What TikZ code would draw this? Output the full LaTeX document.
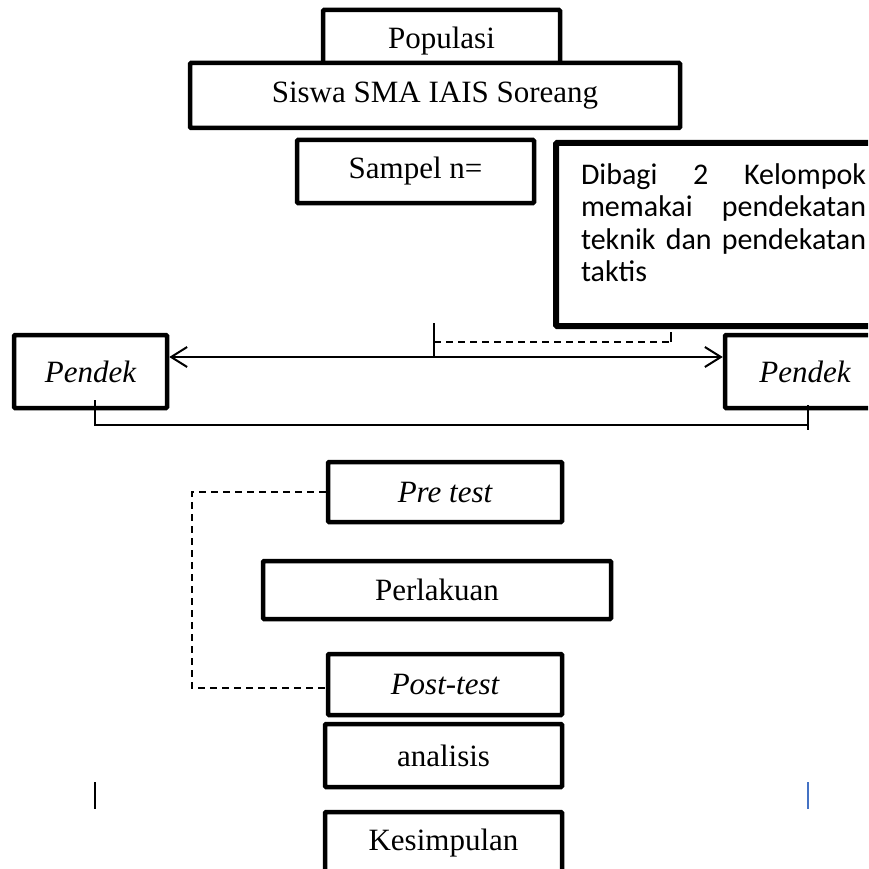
\documentclass[tikz,border=0pt]{standalone}
\usepackage{fontspec}
\setmainfont{Liberation Serif}
\newfontfamily\calibrifont{Carlito}
\usetikzlibrary{arrows.meta,positioning,calc}
\definecolor{ink}{HTML}{000000}
\definecolor{cursorblue}{HTML}{4472C4}
\newcommand\nohyph{\tolerance=10000\relax\hyphenpenalty=10000\relax}
\tikzset{
  wordbox/.style={draw=ink,fill=white,line width=4.5pt,rounded corners=1pt,
                  inner sep=0pt,align=center,font=\fontsize{31}{37}\selectfont},
  slantbox/.style={wordbox,font=\fontsize{31}{37}\selectfont\itshape},
  notebox/.style={draw=ink,fill=white,line width=6pt,rounded corners=1pt,
                  text width=285pt,inner xsep=25pt,inner ysep=0pt,align=justify,
                  font=\calibrifont\fontsize{30}{32.5}\selectfont\nohyph},
  linkline/.style={line width=2pt},
  dashlink/.style={line width=2pt,dash pattern=on 7pt off 5pt},
  barbarr/.style={{Straight Barb[length=16pt,width=20pt]}-{Straight Barb[length=16pt,width=20pt]},line width=2pt},
  cursorbar/.style={line width=2pt}
}
\begin{document}
\begin{tikzpicture}[x=1pt,y=-1pt]
  \clip (0,0) rectangle (868,869);
  \fill[white] (0,0) rectangle (868,869);
  % populasi dan sampel
  \node[wordbox,minimum width=237pt,minimum height=62pt] (pop) at (441.5,41) {Populasi};
  \node[wordbox,minimum width=490pt,minimum height=65pt] (siswa) at (435,95.5) {Siswa SMA IAIS Soreang};
  \node[wordbox,minimum width=237pt,minimum height=63pt] (sampel) at (415.5,171.5) {Sampel n=};
  \node[notebox,minimum height=183pt,anchor=north west] (bagi) at (553,140)
    {Dibagi 2 Kelompok\linebreak memakai pendekatan\linebreak teknik dan pendekatan\linebreak taktis\par\vspace{24pt}\hrule height 0pt};

  % dua kelompok
  \node[slantbox,minimum width=153pt,minimum height=73pt] (pkiri) at (90.5,371.5) {Pendek};
  \node[slantbox,minimum width=160pt,minimum height=73pt] (pkanan) at (805,371.5) {Pendek};
  \coordinate (mid) at (434,357);
  \coordinate (split) at (434,323);
  \coordinate (dashend) at (671,342);
  \draw[barbarr] (pkiri.east |- mid) -- (pkanan.west |- mid);
  \draw[linkline] (split) -- (mid);
  \draw[dashlink] (split |- dashend) -- (dashend);
  \draw[linkline] (dashend) -- ++(0,-10);
  \coordinate (lfoot) at (95,425);
  \coordinate (rfoot) at (808,425);
  \draw[linkline] ($(pkiri.south -| lfoot)+(0,-10)$) -- (lfoot) -- (rfoot);
  \draw[linkline] ($(pkanan.south -| rfoot)+(0,-5)$) -- ($(rfoot)+(0,5)$);

  % perlakuan
  \node[slantbox,minimum width=234pt,minimum height=60pt] (pre) at (445,492) {Pre test};
  \node[wordbox,minimum width=348pt,minimum height=58pt] (perlakuan) at (437,590) {Perlakuan};
  \node[slantbox,minimum width=234pt,minimum height=61pt] (post) at (445,684.5) {Post-test};
  \node[wordbox,minimum width=237pt,minimum height=63pt] (analisis) at (443.5,755.5) {analisis};
  \node[wordbox,minimum width=237pt,minimum height=63pt] (simpul) at (443.5,843.5) {Kesimpulan};
  \coordinate (loop) at (192,688);
  \draw[dashlink] (pre.west) -| (loop) -- (loop -| post.west);

  \draw[cursorbar] (95,782) -- ++(0,27);
  \draw[cursorbar,cursorblue] (808,782) -- ++(0,27);
\end{tikzpicture}
\end{document}
